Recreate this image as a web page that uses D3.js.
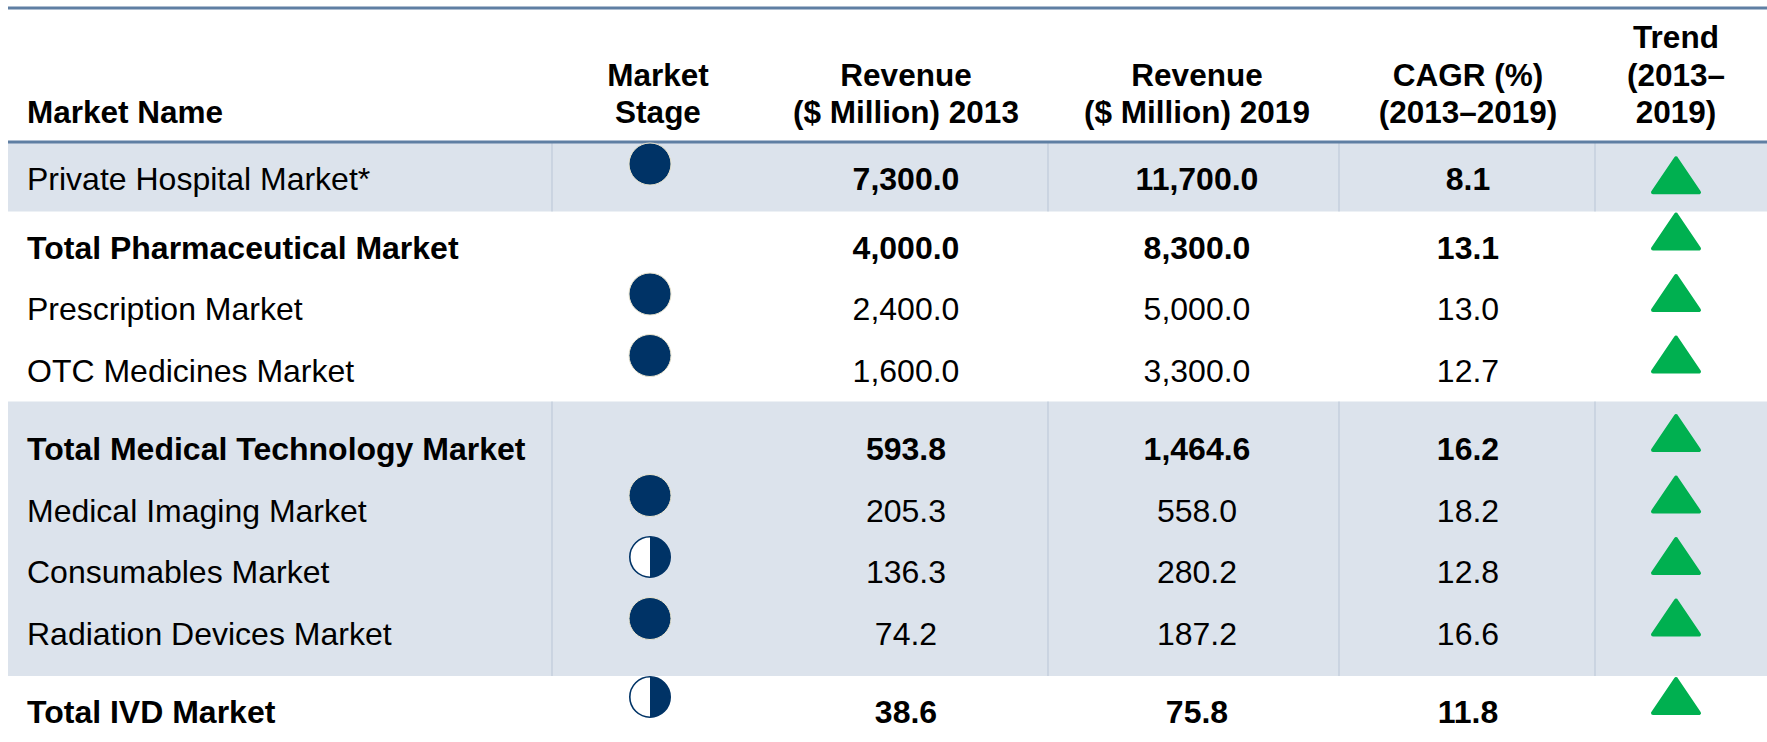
<!DOCTYPE html>
<html>
<head>
<meta charset="utf-8">
<style>
  body { margin: 0; background: #fff; overflow: hidden; }
  svg text { font-family: "Liberation Sans", Arial, sans-serif; font-size: 32px; fill: #000; }
  .hdr { font-weight: bold; font-size: 31.5px; }
</style>
<script src="https://d3js.org/d3.v7.min.js"></script>
</head>
<body>
<svg width="1767" height="742"></svg>
<script>
// table data
var markets = ["Private Hospital Market*", "Total Pharmaceutical Market", "Prescription Market",
  "OTC Medicines Market", "Total Medical Technology Market", "Medical Imaging Market",
  "Consumables Market", "Radiation Devices Market", "Total IVD Market"];
var groups = [0, 1, 1, 1, 2, 2, 2, 2, 3];
var stage = ["full", "", "full", "full", "", "full", "half", "full", "half"];
var rev2013 = [7300.0, 4000.0, 2400.0, 1600.0, 593.8, 205.3, 136.3, 74.2, 38.6];
var rev2019 = [11700.0, 8300.0, 5000.0, 3300.0, 1464.6, 558.0, 280.2, 187.2, 75.8];
var cagr = [8.1, 13.1, 13.0, 12.7, 16.2, 18.2, 12.8, 16.6, 11.8];
var trend = ["up", "up", "up", "up", "up", "up", "up", "up", "up"];
var boldName = [false, true, false, false, true, false, false, false, true];
var boldValues = [true, true, false, false, true, false, false, false, true];
var headers = [["Market Name"], ["Market", "Stage"], ["Revenue", "($ Million) 2013"],
  ["Revenue", "($ Million) 2019"], ["CAGR (%)", "(2013\u20132019)"], ["Trend", "(2013\u2013", "2019)"]];
var shadedGroups = [0, 2];

var svg = d3.select("svg"),
    width = +svg.attr("width"),
    height = +svg.attr("height");

var navy = "#003366", green = "#00b050", shade = "#dce3ec", rule = "#5f7fa3";

var cols = ["name", "stage", "r13", "r19", "cagr", "trend"];
var x = d3.scaleOrdinal().domain(cols).range([27, 650, 906, 1197, 1468, 1676]);
var sepX = [552, 1048, 1339, 1595];

// row baselines, extra space before each group
var gapBefore = [0, 7, 24, 41];
var y = function (i) { return 190 + i * 61.5 + gapBefore[groups[i]]; };
var headerY = 142;
var fmt = d3.format(",.1f");

var rows = markets.map(function (m, i) {
  return { i: i, name: m, g: groups[i], stage: stage[i], r13: rev2013[i], r19: rev2019[i],
           cagr: cagr[i], trend: trend[i], bn: boldName[i], bv: boldValues[i] };
});

// shaded bands
function firstRow(g) { return groups.indexOf(g); }
function lastRow(g) { return groups.lastIndexOf(g); }
shadedGroups.forEach(function (g) {
  var top = g === 0 ? headerY + 1 : y(lastRow(g - 1)) + 20;
  var bottom = g === groups[groups.length - 1] ? height : y(firstRow(g + 1)) - 47;
  svg.append("rect")
    .attr("x", 8).attr("y", top)
    .attr("width", width - 8).attr("height", bottom - top)
    .attr("fill", shade);
  svg.selectAll(null).data(sepX).enter().append("line")
    .attr("x1", function (d) { return d; }).attr("x2", function (d) { return d; })
    .attr("y1", top).attr("y2", bottom)
    .attr("stroke", "#b9c5d6").attr("stroke-width", 1);
  rows.filter(function (r) { return r.g === g; }).forEach(function (r) { r.band = [top, bottom]; });
});

// header rules
[8, headerY].forEach(function (ly) {
  svg.append("line")
    .attr("x1", 8).attr("x2", width)
    .attr("y1", ly).attr("y2", ly)
    .attr("stroke", rule).attr("stroke-width", 3);
});

// header text
headers.forEach(function (lines, c) {
  var key = cols[c];
  var t = svg.append("text")
    .attr("class", "hdr")
    .attr("text-anchor", c === 0 ? "start" : "middle");
  lines.forEach(function (l, k) {
    t.append("tspan")
      .attr("x", x(key) + (key === "stage" ? 8 : 0))
      .attr("y", 123 - (lines.length - 1 - k) * 37.5)
      .text(l);
  });
});

// body rows
var row = svg.selectAll(".row").data(rows).enter().append("g").attr("class", "row");

row.append("text")
  .attr("x", x("name")).attr("y", function (d) { return y(d.i); })
  .style("font-weight", function (d) { return d.bn ? "bold" : "normal"; })
  .text(function (d) { return d.name; });

["r13", "r19", "cagr"].forEach(function (k) {
  row.append("text")
    .attr("x", x(k)).attr("y", function (d) { return y(d.i); })
    .attr("text-anchor", "middle")
    .style("font-weight", function (d) { return d.bv ? "bold" : "normal"; })
    .text(function (d) { return fmt(d[k]); });
});

// market stage markers
var r = 21;
var st = row.filter(function (d) { return d.stage !== ""; })
  .append("g")
  .attr("transform", function (d) { return "translate(" + x("stage") + "," + (y(d.i) - 26) + ")"; });

st.filter(function (d) { return d.stage === "full"; })
  .append("circle").attr("r", r)
  .attr("fill", navy).attr("stroke", "#ece6cf").attr("stroke-width", 1);

var half = st.filter(function (d) { return d.stage === "half"; });
half.append("circle").attr("r", r - 0.8).attr("fill", "#fff");
half.append("path")
  .attr("d", d3.arc()({ innerRadius: 0, outerRadius: r - 0.8, startAngle: 0, endAngle: Math.PI }))
  .attr("fill", navy);
half.append("circle").attr("r", r - 0.8)
  .attr("fill", "none").attr("stroke", navy).attr("stroke-width", 1.6);

// trend triangles
var tw = 46, th = 34;
row.filter(function (d) { return d.trend === "up"; })
  .append("path")
  .attr("transform", function (d) {
    var cy = d.g === 0 && d.band ? (d.band[0] + d.band[1]) / 2 - 2 : y(d.i) - 27;
    return "translate(" + x("trend") + "," + cy + ")";
  })
  .attr("d", d3.line()([[0, -th / 2], [tw / 2, th / 2], [-tw / 2, th / 2]]) + "Z")
  .attr("fill", green).attr("stroke", green)
  .attr("stroke-width", 4).attr("stroke-linejoin", "round");
</script>
</body>
</html>
